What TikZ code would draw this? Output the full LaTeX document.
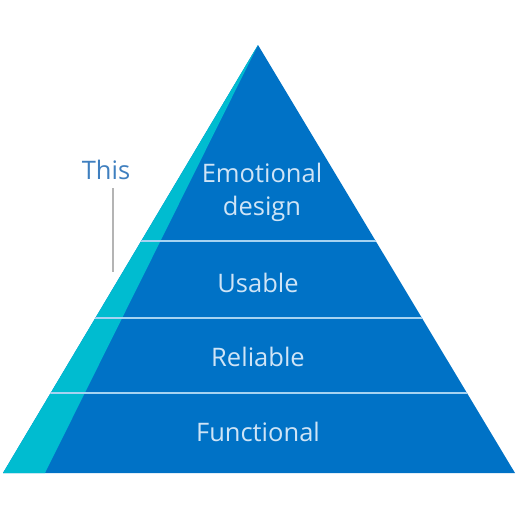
\documentclass[tikz,border=0pt]{standalone}
\usepackage{fontspec}
\setmainfont{Open Sans}
\definecolor{pyblue}{HTML}{0072C6}
\definecolor{pycyan}{HTML}{00BCD0}
\definecolor{pytext}{HTML}{CFE4F6}
\definecolor{sepline}{HTML}{A6D3F2}
\definecolor{thisblue}{HTML}{3F7FBF}
\definecolor{callout}{HTML}{B4B4B4}
\begin{document}
\begin{tikzpicture}[x=1pt,y=-1pt,
  layer/.style={text=pytext,font=\fontsize{25.5}{33}\selectfont,align=center,inner sep=0pt},
  sep/.style={draw=sepline,line width=2pt}]
\useasboundingbox (0,0) rectangle (522,506);
\coordinate (apex) at (258,45);
\coordinate (bl) at (3,473);
\coordinate (bc) at (45,473);
\coordinate (br) at (515,473);
\fill[pyblue] (apex) -- (br) -- (bl) -- cycle;
\fill[pycyan] (apex) -- (bc) -- (bl) -- cycle;
\begin{scope}
  \clip (apex) -- (br) -- (bl) -- cycle;
  \draw[sep] (0,241) -- (522,241);
  \draw[sep] (0,318) -- (522,318);
  \draw[sep] (0,393) -- (522,393);
\end{scope}
\node[layer] (emo) at (262,192) {Emotional\\design};
\node[layer] (usa) at (258,283) {Usable};
\node[layer] (rel) at (258,357) {Reliable};
\node[layer] (fun) at (258,432) {Functional};
\node[text=thisblue,font=\fontsize{25.5}{30}\selectfont,inner sep=0pt] (this) at (106,170) {This};
\coordinate (ct) at (113,188);
\coordinate (cb) at (113,272);
\draw[callout,line width=1.5pt] (ct) -- (cb);
\end{tikzpicture}
\end{document}
